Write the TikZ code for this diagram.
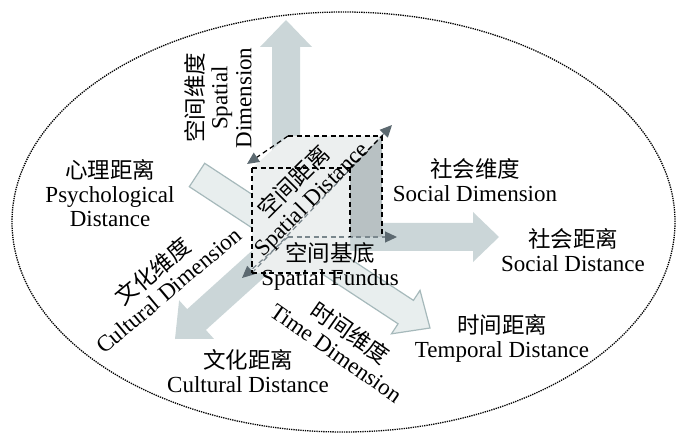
\documentclass[tikz,border=0pt]{standalone}
\usepackage{fontspec}
\setmainfont{Liberation Serif}
\newfontfamily\cjk{Noto Sans CJK SC}
\usetikzlibrary{arrows.meta,calc}
\definecolor{arrowfill}{HTML}{CBD6D8}
\definecolor{timefill}{HTML}{E8EEEE}
\definecolor{timedraw}{HTML}{A6B9BB}
\definecolor{cubefront}{HTML}{ECEFEF}
\definecolor{cubeside}{HTML}{B8C1C3}
\definecolor{tipgray}{HTML}{5C6970}
\definecolor{axisgray}{HTML}{7A878D}
\newcommand\zh[1]{{\cjk\fontsize{22.5}{24}\selectfont #1}}
% block arrow: #1 style, #2 tail, #3 tip, #4 shaft half width, #5 head half width, #6 head length (all pt)
\newcommand\blockarr[6]{%
  \coordinate (bb) at ($(#3)!#6pt!(#2)$);
  \path[#1] ($(#2)!#4pt!90:(#3)$) -- ($(bb)!#4pt!90:(#3)$) -- ($(bb)!#5pt!90:(#3)$) -- (#3)
    -- ($(bb)!#5pt!-90:(#3)$) -- ($(bb)!#4pt!-90:(#3)$) -- ($(#2)!#4pt!-90:(#3)$) -- cycle;}
\tikzset{
  lbl/.style={align=center, inner sep=0pt, font=\fontsize{23}{24}\selectfont},
  solidarrow/.style={fill=arrowfill},
  outlinearrow/.style={fill=timefill, draw=timedraw, line width=1.2pt, line join=miter},
  cubeedge/.style={draw=black, line width=1.2pt, dash pattern=on 5pt off 3.5pt},
  axisline/.style={draw=axisgray, line width=1.2pt, dash pattern=on 5pt off 3.5pt},
  smalltip/.style={-{Triangle[length=12pt,width=11pt,color=tipgray]}},
}
\begin{document}
\begin{tikzpicture}[x=1pt,y=1pt]
\useasboundingbox (0,0) rectangle (688,445);
% frame ellipse
\draw[densely dotted, line width=1.3pt] (343.5,223) ellipse [x radius=331.5, y radius=210];
% axis coordinates
\coordinate (O) at (288,208);
\coordinate (psyT) at (197,270);
\coordinate (timeH) at (430,117);
\coordinate (culH) at (175,106);
\coordinate (upT) at (286,208);
\coordinate (upH) at (286,425);
\coordinate (socH) at (499,208);
% big arrows
\blockarr{outlinearrow}{psyT}{timeH}{14}{26}{29}
\blockarr{solidarrow}{O}{culH}{14}{26}{29}
\blockarr{solidarrow}{upT}{upH}{14}{26}{27}
\blockarr{solidarrow}{O}{socH}{14}{25}{26}
% cube
\coordinate (FTL) at (252,277);
\coordinate (FTR) at (350,277);
\coordinate (FBL) at (252,172);
\coordinate (FBR) at (350,172);
\coordinate (FMR) at (350,208);
\coordinate (BTL) at (288,309);
\coordinate (BTR) at (382,309);
\coordinate (BBL) at (288,208);
\coordinate (BBR) at (382,208);
\fill[cubefront] (FBL) -- (FTL) -- (BTL) -- (BTR) -- (FTR) -- (FBR) -- cycle;
\fill[cubeside] (FTR) -- (BTR) -- (BBR) -- (FMR) -- cycle;
% small axes inside cube
\coordinate (socTip) at (397,208);
\coordinate (culTip) at (242,167);
\coordinate (diagTip) at (392,320);
\coordinate (psyTip) at (247,281);
\draw[axisline, smalltip] (BBL) -- (socTip);
\draw[axisline, smalltip] (BBL) -- (culTip);
\draw[axisline, smalltip] (FBL) -- (diagTip);
% cube edges
\draw[cubeedge] (FTL) -- (FTR);
\draw[cubeedge] (BTL) -- (BTR);
\draw[cubeedge] (FTR) -- (BTR);
\draw[cubeedge] (FTL) -- (FBL);
\draw[cubeedge] (FTR) -- (FMR);
\draw[cubeedge] (BTR) -- (BBR);
\draw[cubeedge] (FBL) -- (FBR);
\draw[cubeedge, smalltip] (BTL) -- (psyTip);
% labels
\node[lbl, rotate=90] (spdim) at (218,347) {\zh{空间维度}\\Spatial\\Dimension};
\node[lbl] (psy) at (110,252) {\zh{心理距离}\\Psychological\\Distance};
\node[lbl] (socdim) at (475,265) {\zh{社会维度}\\Social Dimension};
\node[lbl] (soc) at (573,195) {\zh{社会距离}\\Social Distance};
\node[lbl] (tem) at (502,107) {\zh{时间距离}\\Temporal Distance};
\node[lbl] (cul) at (248,74) {\zh{文化距离}\\Cultural Distance};
\node[lbl] (fund) at (330,179) {\zh{空间基底}\\Spatial Fundus};
\node[lbl, rotate=-35] (timedim) at (344,103) {\zh{时间维度}\\Time Dimension};
\node[lbl, rotate=40] (culdim) at (160,165) {\zh{文化维度}\\Cultural Dimension};
\node[lbl, rotate=45] (spdist) at (303,254) {\zh{空间距离}\\Spatial Distance};
\end{tikzpicture}
\end{document}
